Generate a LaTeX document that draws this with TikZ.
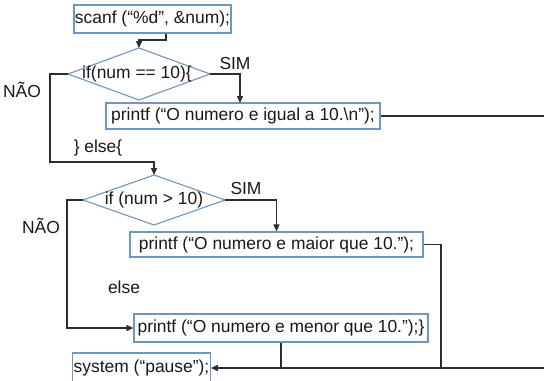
\documentclass[tikz,border=0pt]{standalone}
\usepackage{fontspec}
\setmainfont{Liberation Sans}
\usetikzlibrary{arrows.meta}
\definecolor{boxblue}{RGB}{110,150,190}
\definecolor{linegray}{RGB}{45,45,45}
\definecolor{txt}{RGB}{25,25,25}
\tikzset{
  box/.style={draw=boxblue, line width=1.1bp, inner sep=1bp, text=txt,
    font=\fontsize{17.5}{19}\selectfont, anchor=center},
  lbl/.style={text=txt, font=\fontsize{17.5}{19}\selectfont, inner sep=0pt},
  dia/.style={draw=boxblue, line width=1.1bp},
  conn/.style={draw=linegray, line width=1.4bp},
  arr/.style={conn, -{Triangle[length=7bp,width=6bp]}},
}
\begin{document}
\begin{tikzpicture}[x=1bp,y=-1bp]
\useasboundingbox (0,0) rectangle (544,380);
\clip (0,0) rectangle (544,380);
% boxes
\node[box, minimum width=157bp, minimum height=28bp] (scanf) at (152.5,19) {scanf (“\%d”, \&num);};
\node[box, minimum width=274bp, minimum height=26bp] (p1) at (243,116) {printf (“O numero e igual a 10.\textbackslash n”);};
\node[box, minimum width=293bp, minimum height=25bp] (p2) at (276.5,244.5) {printf (“O numero e maior que 10.”);};
\node[box, minimum width=294bp, minimum height=28bp] (p3) at (281,328) {printf (“O numero e menor que 10.”);\}};
\node[box, minimum width=137bp, minimum height=30bp] (sys) at (141.5,368) {system (“pause”);};
% diamonds
\coordinate (d1l) at (68,74);
\coordinate (d1t) at (139,48);
\coordinate (d1r) at (210,74);
\coordinate (d1b) at (139,100);
\draw[dia] (d1l) -- (d1t) -- (d1r) -- (d1b) -- cycle;
\node[lbl] (d1) at (137,74) {if(num == 10)\{};
\coordinate (d2l) at (83,200);
\coordinate (d2t) at (154,175);
\coordinate (d2r) at (225,200);
\coordinate (d2b) at (154,225);
\draw[dia] (d2l) -- (d2t) -- (d2r) -- (d2b) -- cycle;
\node[lbl] (d2) at (154,200) {if (num > 10)};
% labels
\node[lbl] (sim1) at (235,63) {SIM};
\node[lbl] (nao1) at (22,90) {NÃO};
\node[lbl] (else1) at (98,148) {\} else\{};
\node[lbl] (sim2) at (246,188) {SIM};
\node[lbl] (nao2) at (41,226) {NÃO};
\node[lbl] (else2) at (124,287) {else};
% helper coordinates
\coordinate (c1) at (166,40);
\coordinate (c2) at (240,103);
\coordinate (n1) at (50,162);
\coordinate (n2) at (67,328);
\coordinate (r1) at (548,368);
\coordinate (r2) at (441,368);
% connectors
\draw[arr] (scanf.south -| c1) -- (c1) -| (d1t);
\draw[arr] (d1r) -| (c2);
\draw[arr] (d1l) -| (n1) -| (d2t);
\draw[arr] (d2r) -| (p2.north);
\draw[arr] (d2l) -| (n2) -- (p3.west);
\draw[arr] (p1.east) -| (r1) -- (sys.east);
\draw[conn] (p2.east) -| (r2);
\draw[conn] (p3.south) -- (p3.south |- r2);
\end{tikzpicture}
\end{document}
